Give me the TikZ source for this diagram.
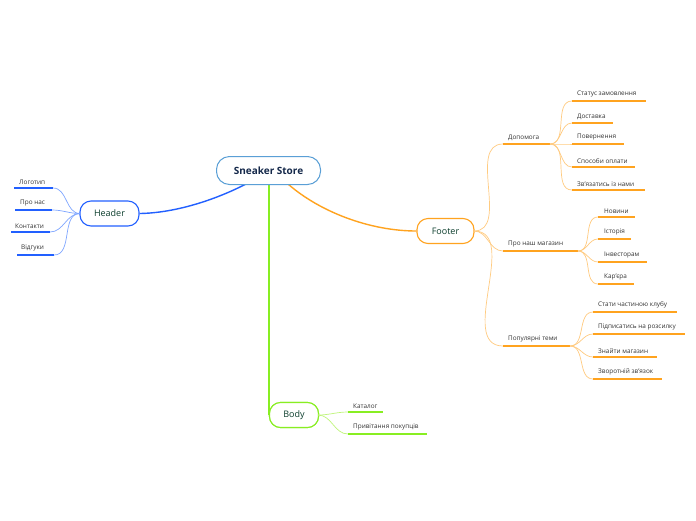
\documentclass[tikz,border=0pt]{standalone}
\usepackage{fontspec}
\setmainfont{Open Sans}
\begin{document}
\definecolor{cblue}{HTML}{2260FF}
\definecolor{lblue}{HTML}{7FA6FF}
\definecolor{cbord}{HTML}{5A9FD6}
\definecolor{corange}{HTML}{FFA31F}
\definecolor{lorange}{HTML}{FFCB80}
\definecolor{cgreen}{HTML}{88EE22}
\definecolor{lgreen}{HTML}{BFF57A}
\definecolor{tgreen}{HTML}{0B3D2C}
\definecolor{tnavy}{HTML}{14284A}
\definecolor{tleaf}{HTML}{333333}
\begin{tikzpicture}[x=1pt,y=-1pt,
  mainbox/.style={draw, rounded corners=11pt, fill=white, line width=1.1pt, minimum height=25pt, inner sep=0pt, font=\fontsize{9}{10}\selectfont, text=tgreen},
  rootbox/.style={draw=cbord, rounded corners=13pt, fill=white, line width=1pt, minimum width=104pt, minimum height=28pt, inner sep=0pt, font=\fontsize{10}{11}\selectfont\bfseries, text=tnavy},
  leaf/.style={anchor=south west, inner sep=0pt, font=\fontsize{6.4}{7}\selectfont, text=tleaf},
  bline/.style={draw=cblue, line width=1.6pt},
  oline/.style={draw=corange, line width=1.6pt},
  gline/.style={draw=cgreen, line width=1.6pt},
  bconn/.style={draw=lblue, line width=0.7pt},
  oconn/.style={draw=lorange, line width=0.7pt},
  gconn/.style={draw=lgreen, line width=0.7pt}
]
\useasboundingbox[fill=white] (0,0) rectangle (696,520);

% root anchors
\coordinate (rb) at (246,184);
\coordinate (rg) at (269,184);
\coordinate (ro) at (288,184);

% main nodes
\node[mainbox, draw=cblue, minimum width=59pt] (header) at (109.5,213.5) {Header};
\node[mainbox, draw=corange, minimum width=57pt] (footer) at (445.5,231) {Footer};
\node[mainbox, draw=cgreen, minimum width=49pt] (body) at (294,415) {Body};

% main connectors
\draw[draw=cblue, line width=1.4pt] (rb) .. controls (215,200) and (175,213) .. (header.east);
\draw[draw=corange, line width=1.4pt] (ro) .. controls (320,212) and (370,231) .. (footer.west);
\draw[draw=cgreen, line width=1.6pt] (rg) -- (269,405) .. controls (269,412) .. (body.west);
\node[rootbox] (root) at (268.5,170.5) {Sneaker Store};
\node[mainbox, draw=cgreen, minimum width=49pt] (bodytop) at (body) {Body};

% ---------------- Header children ----------------
\coordinate (hl) at (80,213.5);
\coordinate (ha1) at (14,188); \coordinate (hb1) at (53,188);
\coordinate (ha2) at (15,210); \coordinate (hb2) at (52,210);
\coordinate (ha3) at (11,232); \coordinate (hb3) at (50,232);
\coordinate (ha4) at (17,255); \coordinate (hb4) at (54,255);
\path (19,184.5) node[leaf] (h1) {Логотип};
\path (20,206.5) node[leaf] (h2) {Про нас};
\path (15,228.5) node[leaf] (h3) {Контакти};
\path (21,251.5) node[leaf] (h4) {Відгуки};
\foreach \i in {1,...,4}{
  \draw[bconn] (hl) to[out=180,in=0] (hb\i);
  \draw[bline] (ha\i) -- (hb\i);
}

% ---------------- Footer children ----------------
\coordinate (fr) at (474,231);
\coordinate (da1) at (503,144); \coordinate (db1) at (550,144);
\coordinate (da2) at (503,251); \coordinate (db2) at (578,251);
\coordinate (da3) at (503,346); \coordinate (db3) at (570,346);
\path (508,140.5) node[leaf] (d1) {Допомога};
\path (508,247.5) node[leaf] (d2) {Про наш магазин};
\path (508,342.5) node[leaf] (d3) {Популярні теми};
\foreach \i in {1,2,3}{
  \draw[oconn] (fr) to[out=0,in=180] (da\i);
  \draw[oline] (da\i) -- (db\i);
}

% Допомога
\coordinate (aa1) at (572,101); \coordinate (ab1) at (646,101);
\coordinate (aa2) at (572,123); \coordinate (ab2) at (613,123);
\coordinate (aa3) at (572,144); \coordinate (ab3) at (624,144);
\coordinate (aa4) at (572,167); \coordinate (ab4) at (635,167);
\coordinate (aa5) at (572,190); \coordinate (ab5) at (645,190);
\path (577,97.5) node[leaf] (a1) {Статус замовлення};
\path (577,119.5) node[leaf] (a2) {Доставка};
\path (577,140.5) node[leaf] (a3) {Повернення};
\path (577,163.5) node[leaf] (a4) {Способи оплати};
\path (577,186.5) node[leaf] (a5) {Зв'язатись із нами};
\foreach \i in {1,...,5}{
  \draw[oconn] (db1) to[out=0,in=180] (aa\i);
  \draw[oline] (aa\i) -- (ab\i);
}

% Про наш магазин
\coordinate (ba1) at (598,217); \coordinate (bb1) at (635,217);
\coordinate (ba2) at (598,239); \coordinate (bb2) at (631,239);
\coordinate (ba3) at (598,262); \coordinate (bb3) at (647,262);
\coordinate (ba4) at (598,284); \coordinate (bb4) at (634,284);
\path (604,213.5) node[leaf] (b1) {Новини};
\path (604,235.5) node[leaf] (b2) {Історія};
\path (604,258.5) node[leaf] (b3) {Інвесторам};
\path (604,280.5) node[leaf] (b4) {Кар'єра};
\foreach \i in {1,...,4}{
  \draw[oconn] (db2) to[out=0,in=180] (ba\i);
  \draw[oline] (ba\i) -- (bb\i);
}

% Популярні теми
\coordinate (ca1) at (593,312); \coordinate (cb1) at (677,312);
\coordinate (ca2) at (593,334); \coordinate (cb2) at (685,334);
\coordinate (ca3) at (593,357); \coordinate (cb3) at (657,357);
\coordinate (ca4) at (593,379); \coordinate (cb4) at (662,379);
\path (598,308.5) node[leaf] (c1) {Стати частиною клубу};
\path (598,330.5) node[leaf] (c2) {Підписатись на розсилку};
\path (598,353.5) node[leaf] (c3) {Знайти магазин};
\path (598,375.5) node[leaf] (c4) {Зворотній зв'язок};
\foreach \i in {1,...,4}{
  \draw[oconn] (db3) to[out=0,in=180] (ca\i);
  \draw[oline] (ca\i) -- (cb\i);
}

% ---------------- Body children ----------------
\coordinate (br) at (318,415);
\coordinate (ga1) at (348,412); \coordinate (gb1) at (383,412);
\coordinate (ga2) at (348,434); \coordinate (gb2) at (427,434);
\path (353,408.5) node[leaf] (g1) {Каталог};
\path (353,430.5) node[leaf] (g2) {Привітання покупців};
\foreach \i in {1,2}{
  \draw[gconn] (br) to[out=0,in=180] (ga\i);
  \draw[gline] (ga\i) -- (gb\i);
}
\end{tikzpicture}
\end{document}
